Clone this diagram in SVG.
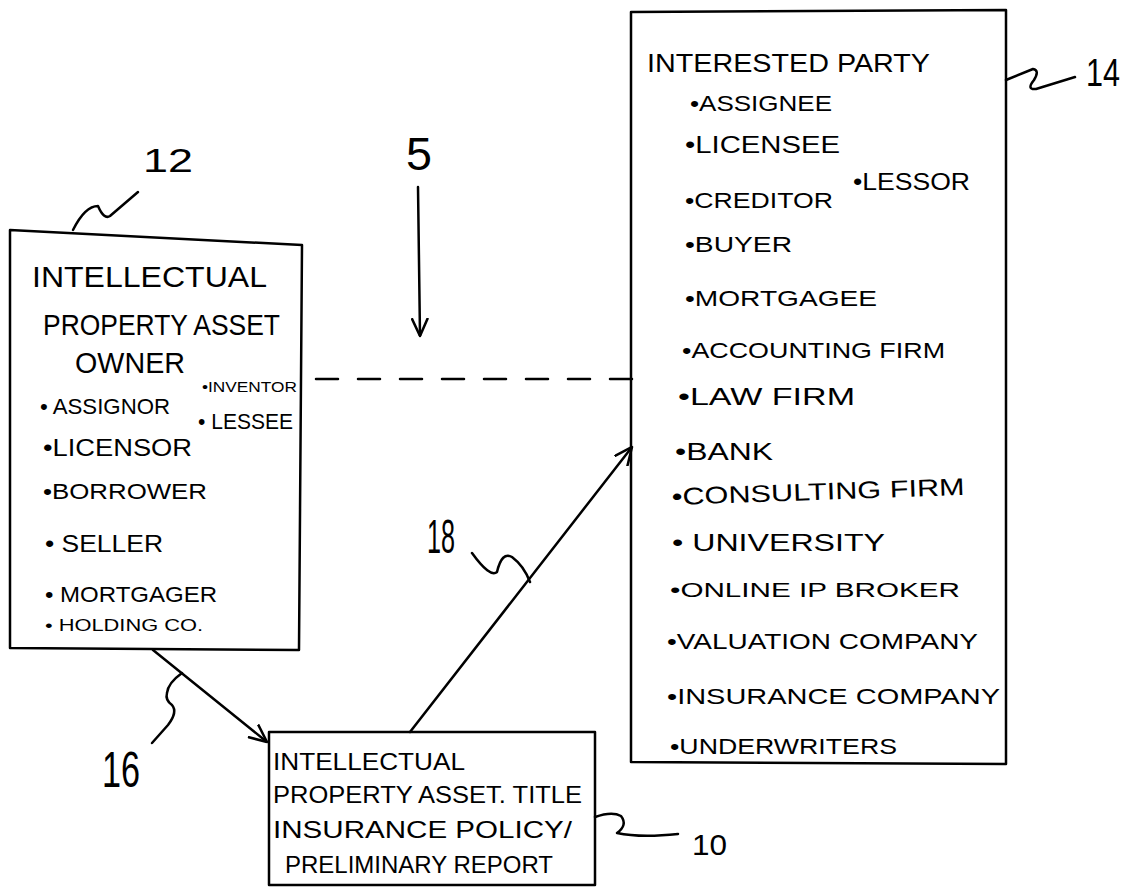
<svg xmlns="http://www.w3.org/2000/svg" width="1132" height="888" viewBox="0 0 1132 888">
<style>
.box{fill:none;stroke:#000;stroke-width:2.5;stroke-linejoin:round}
.ln{fill:none;stroke:#000;stroke-width:2.5;stroke-linecap:round;stroke-linejoin:round}
.t{font-family:"Liberation Sans",Arial,sans-serif;fill:#000}
.lbl{font-family:"Liberation Sans",Arial,sans-serif;fill:#000}
</style>
<defs>
<marker id="ah" viewBox="0 0 10 10" refX="10" refY="5" markerWidth="18" markerHeight="18" markerUnits="userSpaceOnUse" orient="auto">
<path d="M0,0.5 L10,5 L0,9.5" fill="none" stroke="#000" stroke-width="1.4"/>
</marker>
</defs>
<rect width="1132" height="888" fill="#fff"/>

<g id="connectors">
<path class="ln" d="M418,187 L420,336" marker-end="url(#ah)"/>
<path class="ln" d="M632,379 L303,379" stroke-dasharray="22 20"/>
<path class="ln" d="M153,650 L267,742" marker-end="url(#ah)"/>
<path class="ln" d="M410,732 L632,447" marker-end="url(#ah)"/>
<path class="ln" d="M73,230 Q85,206 98,206 Q104,220 110,216 L138,192"/>
<path class="ln" d="M1006,80 L1033,69 Q1040,70 1034,80 Q1026,90 1036,89 L1075,77"/>
<path class="ln" d="M472,553 Q490,578 497,572 Q502,551 512,557 Q524,566 530,582"/>
<path class="ln" d="M182,673 Q168,683 167,693 Q165,700 172,705 Q178,712 168,725 L152,743"/>
<path class="ln" d="M595,817 Q612,811 621,816 Q628,825 617,833 Q640,838 678,834"/>
</g>

<g id="labels">
<text class="lbl" x="143" y="172" font-size="33" textLength="50" lengthAdjust="spacingAndGlyphs">12</text>
<text class="lbl" x="406" y="170" font-size="46" textLength="26" lengthAdjust="spacingAndGlyphs">5</text>
<text class="lbl" x="1086" y="86" font-size="38" textLength="34" lengthAdjust="spacingAndGlyphs">14</text>
<text class="lbl" x="427" y="553" font-size="48" textLength="28" lengthAdjust="spacingAndGlyphs">18</text>
<text class="lbl" x="102" y="787" font-size="50" textLength="38" lengthAdjust="spacingAndGlyphs">16</text>
<text class="lbl" x="692" y="855" font-size="30" textLength="35" lengthAdjust="spacingAndGlyphs">10</text>
</g>

<g id="node-12">
<path class="box" d="M10,230 L302,245 L299,650 L10,648 Z"/>
<text class="t" x="32" y="287" font-size="30" textLength="235" lengthAdjust="spacingAndGlyphs">INTELLECTUAL</text>
<text class="t" x="43" y="335" font-size="30" textLength="237" lengthAdjust="spacingAndGlyphs">PROPERTY ASSET</text>
<text class="t" x="75" y="373" font-size="30" textLength="110" lengthAdjust="spacingAndGlyphs">OWNER</text>
<text class="t" x="202" y="392" font-size="15" textLength="95" lengthAdjust="spacingAndGlyphs">•INVENTOR</text>
<text class="t" x="40" y="414" font-size="22" textLength="130" lengthAdjust="spacingAndGlyphs">• ASSIGNOR</text>
<text class="t" x="198" y="429" font-size="22" textLength="95" lengthAdjust="spacingAndGlyphs">• LESSEE</text>
<text class="t" x="43" y="456" font-size="23" textLength="149" lengthAdjust="spacingAndGlyphs">•LICENSOR</text>
<text class="t" x="43" y="499" font-size="22" textLength="164" lengthAdjust="spacingAndGlyphs">•BORROWER</text>
<text class="t" x="45" y="552" font-size="23" textLength="118" lengthAdjust="spacingAndGlyphs">• SELLER</text>
<text class="t" x="45" y="602" font-size="22" textLength="172" lengthAdjust="spacingAndGlyphs">• MORTGAGER</text>
<text class="t" x="45" y="631" font-size="16" textLength="158" lengthAdjust="spacingAndGlyphs">• HOLDING CO.</text>
</g>

<g id="node-14">
<path class="box" d="M631,12 L1006,10 L1006,764 L631,762 Z"/>
<text class="t" x="647" y="72" font-size="26" textLength="283" lengthAdjust="spacingAndGlyphs">INTERESTED PARTY</text>
<text class="t" x="690" y="111" font-size="22" textLength="142" lengthAdjust="spacingAndGlyphs">•ASSIGNEE</text>
<text class="t" x="685" y="153" font-size="24" textLength="155" lengthAdjust="spacingAndGlyphs">•LICENSEE</text>
<text class="t" x="853" y="190" font-size="24" textLength="117" lengthAdjust="spacingAndGlyphs">•LESSOR</text>
<text class="t" x="685" y="208" font-size="22" textLength="148" lengthAdjust="spacingAndGlyphs">•CREDITOR</text>
<text class="t" x="685" y="252" font-size="22" textLength="107" lengthAdjust="spacingAndGlyphs">•BUYER</text>
<text class="t" x="685" y="306" font-size="22" textLength="192" lengthAdjust="spacingAndGlyphs">•MORTGAGEE</text>
<text class="t" x="682" y="358" font-size="22" textLength="263" lengthAdjust="spacingAndGlyphs">•ACCOUNTING FIRM</text>
<text class="t" x="678" y="405" font-size="24" textLength="177" lengthAdjust="spacingAndGlyphs">•LAW FIRM</text>
<text class="t" x="675" y="460" font-size="24" textLength="98" lengthAdjust="spacingAndGlyphs">•BANK</text>
<text class="t" x="672" y="505" font-size="24" textLength="293" lengthAdjust="spacingAndGlyphs" transform="rotate(-2 672 505)">•CONSULTING FIRM</text>
<text class="t" x="672" y="551" font-size="24" textLength="213" lengthAdjust="spacingAndGlyphs">• UNIVERSITY</text>
<text class="t" x="670" y="597" font-size="20" textLength="290" lengthAdjust="spacingAndGlyphs">•ONLINE IP BROKER</text>
<text class="t" x="667" y="649" font-size="22" textLength="311" lengthAdjust="spacingAndGlyphs">•VALUATION COMPANY</text>
<text class="t" x="667" y="704" font-size="22" textLength="333" lengthAdjust="spacingAndGlyphs">•INSURANCE COMPANY</text>
<text class="t" x="670" y="754" font-size="22" textLength="227" lengthAdjust="spacingAndGlyphs">•UNDERWRITERS</text>
</g>

<g id="node-10">
<rect class="box" x="269" y="732" width="326" height="153"/>
<text class="t" x="273" y="770" font-size="23" textLength="192" lengthAdjust="spacingAndGlyphs">INTELLECTUAL</text>
<text class="t" x="273" y="803" font-size="24" textLength="309" lengthAdjust="spacingAndGlyphs">PROPERTY ASSET. TITLE</text>
<text class="t" x="273" y="838" font-size="24" textLength="299" lengthAdjust="spacingAndGlyphs">INSURANCE POLICY/</text>
<text class="t" x="285" y="873" font-size="24" textLength="268" lengthAdjust="spacingAndGlyphs">PRELIMINARY REPORT</text>
</g>
</svg>
